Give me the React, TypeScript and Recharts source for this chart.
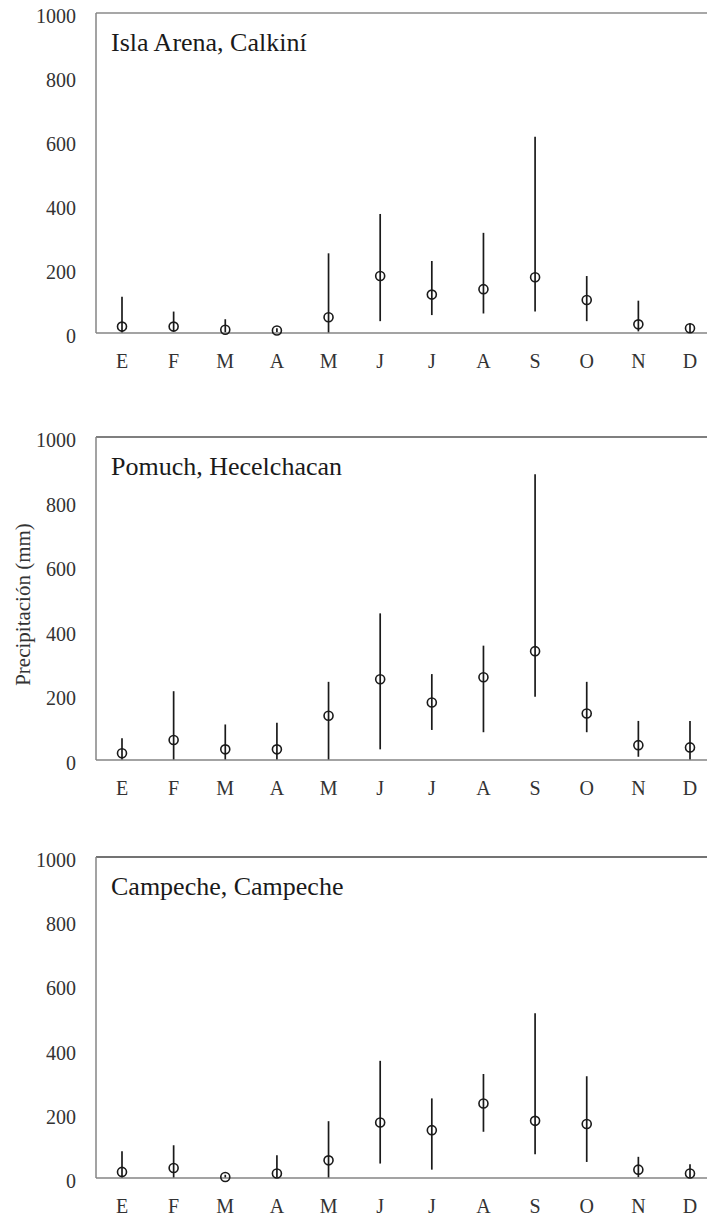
import React from 'react';
import { ComposedChart, Line, ErrorBar, XAxis, YAxis, ReferenceLine, Label } from 'recharts';

const months = ['E', 'F', 'M', 'A', 'M', 'J', 'J', 'A', 'S', 'O', 'N', 'D'];
const yTicks = [0, 200, 400, 600, 800, 1000];

const islaMean = [20, 20, 10, 8, 49, 178, 120, 137, 174, 103, 27, 15];
const islaMax = [113, 67, 43, 15, 249, 372, 225, 313, 613, 178, 101, 30];
const islaMin = [0, 5, 2, 3, 0, 37, 56, 61, 67, 37, 5, 3];

const pomuchMean = [21, 62, 33, 33, 137, 250, 178, 256, 337, 144, 46, 39];
const pomuchMax = [67, 213, 110, 115, 242, 454, 266, 354, 885, 242, 121, 121];
const pomuchMin = [0, 0, 0, 0, 0, 33, 93, 86, 196, 86, 10, 0];

const campMean = [19, 31, 3, 14, 55, 173, 149, 232, 178, 168, 26, 14];
const campMax = [83, 102, 10, 71, 177, 365, 248, 324, 513, 317, 66, 43];
const campMin = [0, 0, 0, 0, 0, 45, 26, 144, 74, 50, 2, 0];

const FONT = '"Liberation Serif", "Times New Roman", serif';
const AXIS = '#858585';
const INK = '#1a1a1a';

function build(mean: number[], max: number[], min: number[]) {
  return months.map((m, i) => ({
    month: m,
    mean: mean[i],
    err: [mean[i] - min[i], max[i] - mean[i]],
  }));
}

const MARGIN_TOP = 10;

const panels = [
  { title: 'Isla Arena, Calkiní', data: build(islaMean, islaMax, islaMin), plotTop: 13, plotH: 320, ylabel: false, border: '#8a8a8a' },
  { title: 'Pomuch, Hecelchacan', data: build(pomuchMean, pomuchMax, pomuchMin), plotTop: 437, plotH: 323, ylabel: true, border: '#555' },
  { title: 'Campeche, Campeche', data: build(campMean, campMax, campMin), plotTop: 857, plotH: 321, ylabel: false, border: '#444' },
];

const YTick = (props: any) => {
  const { x, y, payload } = props;
  return (
    <text x={x} y={y + 3} dy="0.35em" textAnchor="end" fontSize={20} fontFamily={FONT} fill="#333">
      {payload.value}
    </text>
  );
};

const XTick = (props: any) => {
  const { x, y, payload } = props;
  return (
    <text x={x} y={y} dy="0.71em" textAnchor="middle" fontSize={20} fontFamily={FONT} fill="#333">
      {payload.value}
    </text>
  );
};

function Panel({ p }: { p: any }) {
  const xAxisH = 50;
  const height = MARGIN_TOP + p.plotH + xAxisH;
  return (
    <div style={{ position: 'absolute', left: 0, top: p.plotTop - MARGIN_TOP }}>
      <ComposedChart
        width={729}
        height={height}
        data={p.data}
        margin={{ top: MARGIN_TOP, right: 13, left: 0, bottom: 0 }}
        accessibilityLayer={false}
      >
        <XAxis
          dataKey="month"
          type="category"
          allowDuplicatedCategory={true}
          padding={{ left: 26, right: 26 }}
          tickLine={false}
          tickSize={0}
          tickMargin={21}
          height={xAxisH}
          axisLine={{ stroke: AXIS, strokeWidth: 1.5 }}
          tick={<XTick />}
          interval={0}
        />
        <YAxis
          type="number"
          domain={[0, 1000]}
          ticks={yTicks}
          width={96}
          tickLine={false}
          tickSize={0}
          tickMargin={20}
          axisLine={{ stroke: AXIS, strokeWidth: 1.5 }}
          tick={<YTick />}
          interval={0}
        >
          {p.ylabel ? (
            <Label
              content={(lp: any) => {
                const vb = lp.viewBox || {};
                const cx = 23;
                const cy = (vb.y ?? 0) + (vb.height ?? 0) / 2 + 6;
                return (
                  <text
                    x={cx}
                    y={cy}
                    textAnchor="middle"
                    dominantBaseline="central"
                    transform={`rotate(-90 ${cx} ${cy})`}
                    fontSize={21}
                    fontFamily={FONT}
                    fill="#333"
                  >
                    Precipitación (mm)
                  </text>
                );
              }}
            />
          ) : null}
        </YAxis>
        <ReferenceLine y={1000} stroke={p.border} strokeWidth={1.5} ifOverflow="extendDomain">
          <Label
            content={(lp: any) => {
              const vb = lp.viewBox || {};
              return (
                <text x={(vb.x ?? 96) + 15} y={(vb.y ?? 0) + 38} fontSize={26} fontFamily={FONT} fill={INK}>
                  {p.title}
                </text>
              );
            }}
          />
        </ReferenceLine>
        <Line
          dataKey="mean"
          stroke="none"
          isAnimationActive={false}
          activeDot={false}
          dot={{ r: 4.5, fill: 'none', stroke: INK, strokeWidth: 1.6 }}
        >
          <ErrorBar dataKey="err" direction="y" width={0} stroke={INK} strokeWidth={1.7} isAnimationActive={false} />
        </Line>
      </ComposedChart>
    </div>
  );
}

export default function App() {
  return (
    <>
      <style>{'html,body{margin:0;padding:0;overflow:hidden;background:#fff;}'}</style>
      <div style={{ position: 'relative', width: 707, height: 1218, overflow: 'hidden', background: '#fff' }}>
        {panels.map((p, i) => (
          <Panel key={i} p={p} />
        ))}
      </div>
    </>
  );
}
